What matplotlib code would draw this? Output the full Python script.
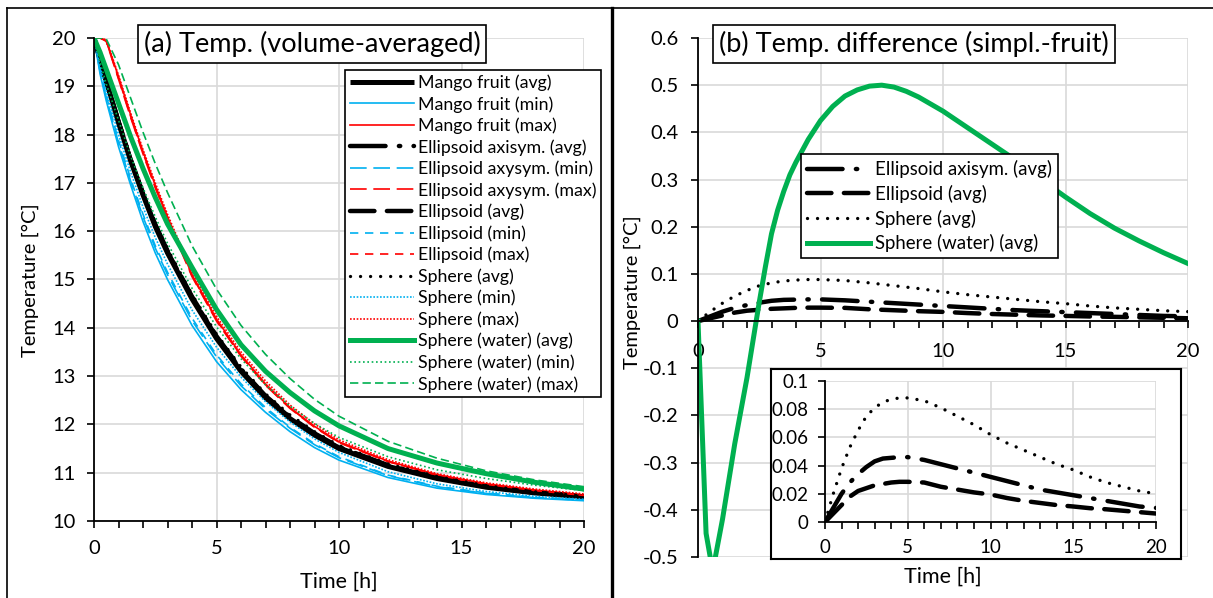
import numpy as np
import matplotlib.pyplot as plt
import matplotlib as mpl
from matplotlib.ticker import MultipleLocator, FuncFormatter
from matplotlib.lines import Line2D

plt.rcParams['font.family'] = ['Lato', 'DejaVu Sans']

W, H = 1213, 598

# ---- (a) volume-averaged temperatures ----
t = [0, 0.25, 0.5, 1, 1.5, 2, 2.5, 3, 4, 5, 6, 7, 8, 9, 10, 12, 14, 16, 18, 20]

mango_avg = [20, 19.55, 19.1, 18.25, 17.45, 16.75, 16.1, 15.55, 14.6, 13.78, 13.1, 12.55, 12.12, 11.78, 11.5, 11.13, 10.88, 10.7, 10.58, 10.5]
mango_min = [20, 19.25, 18.7, 17.75, 16.95, 16.2, 15.55, 15.0, 14.05, 13.3, 12.72, 12.25, 11.85, 11.52, 11.26, 10.9, 10.68, 10.55, 10.47, 10.42]
mango_max = [20, 20, 19.95, 19.2, 18.4, 17.65, 16.95, 16.3, 15.1, 14.18, 13.44, 12.84, 12.35, 11.96, 11.64, 11.24, 10.96, 10.77, 10.64, 10.54]
axi_avg = [20, 19.555, 19.11, 18.27, 17.478, 16.784, 16.139, 15.593, 14.646, 13.826, 13.144, 12.591, 12.158, 11.815, 11.532, 11.156, 10.901, 10.717, 10.593, 10.51]
axi_min = [20, 19.3, 18.77, 17.83, 17.03, 16.3, 15.65, 15.1, 14.15, 13.4, 12.8, 12.32, 11.92, 11.58, 11.31, 10.94, 10.71, 10.57, 10.48, 10.43]
axi_max = [20, 20, 19.93, 19.15, 18.35, 17.6, 16.9, 16.25, 15.06, 14.14, 13.41, 12.81, 12.33, 11.94, 11.62, 11.23, 10.95, 10.76, 10.63, 10.53]
ell_avg = [20, 19.553, 19.106, 18.262, 17.468, 16.772, 16.124, 15.576, 14.628, 13.809, 13.128, 12.575, 12.143, 11.801, 11.52, 11.145, 10.892, 10.71, 10.588, 10.506]
ell_min = [20, 19.33, 18.8, 17.88, 17.08, 16.35, 15.7, 15.15, 14.2, 13.44, 12.84, 12.35, 11.94, 11.6, 11.33, 10.95, 10.72, 10.58, 10.49, 10.44]
ell_max = [20, 20, 19.94, 19.17, 18.37, 17.62, 16.92, 16.27, 15.08, 14.16, 13.42, 12.82, 12.34, 11.95, 11.63, 11.23, 10.95, 10.76, 10.63, 10.53]
sph_avg = [20, 19.56, 19.12, 18.288, 17.503, 16.815, 16.175, 15.631, 14.687, 13.868, 13.186, 12.631, 12.195, 11.849, 11.562, 11.181, 10.921, 10.732, 10.605, 10.52]
sph_min = [20, 19.4, 18.9, 18.0, 17.22, 16.5, 15.87, 15.32, 14.37, 13.6, 12.98, 12.47, 12.05, 11.7, 11.42, 11.02, 10.77, 10.61, 10.51, 10.45]
sph_max = [20, 20, 19.96, 19.23, 18.44, 17.69, 17.0, 16.35, 15.16, 14.24, 13.5, 12.9, 12.4, 12.01, 11.68, 11.27, 10.98, 10.79, 10.66, 10.56]
water_avg = [20, 19.7, 19.35, 18.65, 17.95, 17.3, 16.7, 16.15, 15.25, 14.38, 13.65, 13.1, 12.66, 12.28, 11.97, 11.5, 11.2, 10.98, 10.8, 10.66]
water_min = [20, 19.5, 19.05, 18.3, 17.55, 16.9, 16.3, 15.75, 14.82, 14.02, 13.36, 12.82, 12.38, 12.02, 11.73, 11.33, 11.06, 10.88, 10.74, 10.63]
water_max = [20, 20, 19.98, 19.45, 18.75, 18.05, 17.4, 16.8, 15.7, 14.8, 14.05, 13.45, 12.95, 12.52, 12.17, 11.65, 11.3, 11.04, 10.85, 10.71]

# ---- (b) difference simplified - fruit ----
t_diff = [0, 0.5, 1, 1.5, 2, 2.5, 3, 3.5, 4, 4.5, 5, 6, 7, 8, 9, 10, 11, 12, 13, 14, 15, 16, 17, 18, 19, 20]
axi_diff = [0, 0.01, 0.02, 0.028, 0.034, 0.039, 0.043, 0.045, 0.0455, 0.046, 0.046, 0.044, 0.041, 0.038, 0.035, 0.032, 0.029, 0.026, 0.023, 0.021, 0.019, 0.017, 0.015, 0.013, 0.011, 0.01]
ell_diff = [0, 0.006, 0.012, 0.018, 0.022, 0.024, 0.026, 0.027, 0.028, 0.0285, 0.0285, 0.028, 0.025, 0.023, 0.021, 0.0195, 0.017, 0.015, 0.0135, 0.012, 0.011, 0.0098, 0.009, 0.008, 0.007, 0.006]
sph_diff = [0, 0.02, 0.038, 0.053, 0.065, 0.075, 0.081, 0.085, 0.087, 0.088, 0.088, 0.086, 0.081, 0.075, 0.069, 0.062, 0.056, 0.051, 0.046, 0.041, 0.037, 0.032, 0.028, 0.025, 0.022, 0.02]
t_water = [0, 0.33, 0.6, 1.0, 1.5, 2.0, 2.5, 2.75, 3.0, 3.25, 3.5, 3.75, 4, 4.5, 5, 5.5, 6, 6.5, 7, 7.5, 8, 8.5, 9, 10, 11, 12, 13, 14, 15, 16, 17, 18, 19, 20]
water_diff = [0, -0.45, -0.53, -0.42, -0.26, -0.12, 0.04, 0.115, 0.185, 0.235, 0.275, 0.31, 0.337, 0.385, 0.425, 0.455, 0.477, 0.49, 0.498, 0.5, 0.496, 0.487, 0.475, 0.445, 0.41, 0.375, 0.34, 0.30, 0.263, 0.228, 0.197, 0.17, 0.145, 0.122]

BLUE = '#00B0F0'
RED = '#FF0000'
GREEN = '#00B050'
GRID = '#d9d9d9'

# line styles (dashes scale with linewidth)
thick = 3.6
st_avg = dict(color='black', lw=thick, solid_capstyle='butt')
st_axi = dict(color='black', lw=3.2, dashes=(8, 3, 0.3, 3), dash_capstyle='round')
st_ell = dict(color='black', lw=3.2, dashes=(5.5, 2.8), dash_capstyle='round')
st_sph = dict(color='black', lw=2.4, dashes=(0.01, 3.0), dash_capstyle='round')
st_water = dict(color=GREEN, lw=thick)


def fmt(v, pos):
    s = '%g' % round(v, 6)
    return s.replace('\u2212', '-')


def style_axes(ax, labelsize=14.5):
    for s in ['top', 'right']:
        ax.spines[s].set_visible(False)
    for s in ['left', 'bottom']:
        ax.spines[s].set_color('black')
        ax.spines[s].set_linewidth(1.3)
    ax.grid(True, which='major', color=GRID, lw=1.2)
    ax.set_axisbelow(True)
    ax.xaxis.set_major_locator(MultipleLocator(5))
    ax.xaxis.set_minor_locator(MultipleLocator(1))
    ax.tick_params(axis='both', which='major', direction='out', length=5, width=1.2,
                   labelsize=labelsize, color='black')
    ax.tick_params(axis='x', which='minor', direction='out', length=5, width=1.2)
    ax.tick_params(axis='y', which='minor', length=0)
    ax.yaxis.set_major_formatter(FuncFormatter(fmt))
    ax.xaxis.set_major_formatter(FuncFormatter(fmt))


fig = plt.figure(figsize=(W / 100, H / 100), dpi=100)


def rect(x0, y0, x1, y1):
    return [x0 / W, 1 - y1 / H, (x1 - x0) / W, (y1 - y0) / H]


# ---------------- panel (a) ----------------
ax1 = fig.add_axes(rect(94, 38, 584, 521))
style_axes(ax1)
ax1.tick_params(axis='y', which='major', pad=8)
ax1.tick_params(axis='x', which='both', pad=9)

ax1.plot(t, mango_avg, label='Mango fruit (avg)', **st_avg)
ax1.plot(t, mango_min, color=BLUE, lw=1.2, label='Mango fruit (min)')
ax1.plot(t, mango_max, color=RED, lw=1.2, label='Mango fruit (max)')
ax1.plot(t, axi_avg, label='Ellipsoid axisym. (avg)', **st_axi)
ax1.plot(t, axi_min, color=BLUE, lw=1.2, dashes=(10, 4), label='Ellipsoid axysym. (min)')
ax1.plot(t, axi_max, color=RED, lw=1.2, dashes=(10, 4), label='Ellipsoid axysym. (max)')
ax1.plot(t, ell_avg, label='Ellipsoid (avg)', **st_ell)
ax1.plot(t, ell_min, color=BLUE, lw=1.2, dashes=(5, 4), label='Ellipsoid (min)')
ax1.plot(t, ell_max, color=RED, lw=1.2, dashes=(5, 4), label='Ellipsoid (max)')
ax1.plot(t, sph_avg, label='Sphere (avg)', **st_sph)
ax1.plot(t, sph_min, color=BLUE, lw=1.2, dashes=(1, 1), label='Sphere (min)')
ax1.plot(t, sph_max, color=RED, lw=1.2, dashes=(1, 1), label='Sphere (max)')
ax1.plot(t, water_avg, label='Sphere (water) (avg)', **st_water)
ax1.plot(t, water_min, color=GREEN, lw=1.2, dashes=(1, 1.6), label='Sphere (water) (min)')
ax1.plot(t, water_max, color=GREEN, lw=1.2, dashes=(5, 2.5), label='Sphere (water) (max)')

ax1.set_xlim(0, 20)
ax1.set_ylim(10, 20)
ax1.yaxis.set_major_locator(MultipleLocator(1))

leg1 = ax1.legend(loc='upper right', bbox_to_anchor=((601 - 94) / 490, 1 - (70 - 38) / 483),
                  fontsize=12.8, handlelength=3.6, handletextpad=0.25, labelspacing=0.28,
                  borderpad=0.25, borderaxespad=0, fancybox=False, framealpha=1,
                  edgecolor='black')
leg1.get_frame().set_linewidth(1.2)

ax1.text(0.445, 0.9876, '(a) Temp. (volume-averaged)', transform=ax1.transAxes,
         ha='center', va='center', fontsize=19.5,
         bbox=dict(boxstyle='square,pad=0.22', fc='white', ec='black', lw=1.2))

# ---------------- panel (b) ----------------
ax2 = fig.add_axes(rect(698, 38, 1188, 557))
style_axes(ax2)
ax2.spines['bottom'].set_position(('data', 0))
ax2.tick_params(axis='y', which='major', pad=9)
ax2.tick_params(axis='x', which='both', pad=11)

ax2.plot(t_diff, axi_diff, label='Ellipsoid axisym. (avg)', **st_axi)
ax2.plot(t_diff, ell_diff, label='Ellipsoid (avg)', **st_ell)
ax2.plot(t_diff, sph_diff, label='Sphere (avg)', **st_sph)
ax2.plot(t_water, water_diff, label='Sphere (water) (avg)', **st_water)

ax2.set_xlim(0, 20)
ax2.set_ylim(-0.5, 0.6)
ax2.yaxis.set_major_locator(MultipleLocator(0.1))

leg2 = ax2.legend(loc='upper left', bbox_to_anchor=((801 - 698) / 490, 1 - (154 - 38) / 519),
                  fontsize=13.4, handlelength=3.4, handletextpad=0.25, labelspacing=0.36,
                  borderpad=0.32, borderaxespad=0, fancybox=False, framealpha=1,
                  edgecolor='black')
leg2.get_frame().set_linewidth(1.2)

ax2.text(0.441, 0.988, '(b) Temp. difference (simpl.-fruit)', transform=ax2.transAxes,
         ha='center', va='center', fontsize=19.5,
         bbox=dict(boxstyle='square,pad=0.22', fc='white', ec='black', lw=1.2))

# inset frame + inset axes
frame = fig.add_axes(rect(771, 369, 1181, 559))
frame.set_xticks([])
frame.set_yticks([])
frame.set_facecolor('white')
for s in frame.spines.values():
    s.set_linewidth(1.5)
    s.set_color('black')

ax3 = fig.add_axes(rect(825, 381, 1156, 522))
style_axes(ax3, labelsize=13.5)
ax3.tick_params(axis='y', which='major', pad=7)
ax3.tick_params(axis='x', which='both', pad=7)
ax3.plot(t_diff, axi_diff, **st_axi)
ax3.plot(t_diff, ell_diff, **st_ell)
ax3.plot(t_diff, sph_diff, **st_sph)
ax3.set_xlim(0, 20)
ax3.set_ylim(0, 0.1)
ax3.yaxis.set_major_locator(MultipleLocator(0.02))

# axis titles
fig.text(30 / W, 1 - 280 / H, 'Temperature [°C]', rotation=90, ha='center', va='center', fontsize=14.5)
fig.text(339 / W, 1 - 582 / H, 'Time [h]', ha='center', va='center', fontsize=15.5)
fig.text(632 / W, 1 - 292 / H, 'Temperature [°C]', rotation=90, ha='center', va='center', fontsize=14.5)
fig.text(943 / W, 1 - 577 / H, 'Time [h]', ha='center', va='center', fontsize=15.5)

# chart borders
fig.add_artist(Line2D([7 / W, 1], [1 - 8 / H, 1 - 8 / H], transform=fig.transFigure, color='black', lw=1.2))
fig.add_artist(Line2D([7 / W, 7 / W], [0, 1 - 8 / H], transform=fig.transFigure, color='black', lw=1.2))
fig.add_artist(Line2D([611.5 / W, 611.5 / W], [0, 1 - 8 / H], transform=fig.transFigure, color='black', lw=2.4))

fig.savefig('out.png', dpi=100)
